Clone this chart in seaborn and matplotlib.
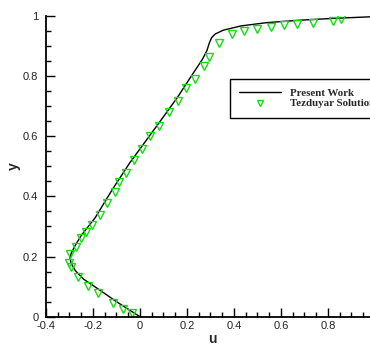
import matplotlib
matplotlib.use("Agg")
import matplotlib.pyplot as plt
import seaborn as sns
import pandas as pd
from matplotlib.ticker import MultipleLocator, FixedLocator, FuncFormatter
from matplotlib.lines import Line2D

# Present Work: u-velocity profile along the vertical centreline
present_u = [0.0, -0.05, -0.10, -0.17, -0.24, -0.275, -0.293, -0.298, -0.292,
             -0.275, -0.25, -0.19, -0.12, -0.045, 0.03, 0.10, 0.16, 0.22,
             0.265, 0.285, 0.295, 0.305, 0.32, 0.355, 0.43, 0.54, 0.68, 0.82, 1.0]
present_y = [0.0, 0.025, 0.05, 0.088, 0.125, 0.153, 0.178, 0.195, 0.212,
             0.238, 0.27, 0.33, 0.42, 0.51, 0.59, 0.665, 0.73, 0.802,
             0.855, 0.885, 0.91, 0.928, 0.94, 0.953, 0.967, 0.978, 0.986, 0.992, 0.998]

# Tezduyar reference solution
tez_u = [-0.035, -0.071, -0.116, -0.180, -0.220, -0.263, -0.294, -0.302, -0.298,
         -0.274, -0.251, -0.230, -0.204, -0.170, -0.139, -0.106, -0.089, -0.060,
         -0.026, 0.010, 0.043, 0.080, 0.123, 0.160, 0.194, 0.235, 0.274, 0.295,
         0.336, 0.390, 0.444, 0.499, 0.556, 0.614, 0.668, 0.735, 0.820, 0.855]
tez_y = [0.011, 0.025, 0.047, 0.078, 0.102, 0.131, 0.164, 0.180, 0.208,
         0.233, 0.261, 0.281, 0.305, 0.338, 0.379, 0.415, 0.448, 0.477,
         0.521, 0.557, 0.601, 0.635, 0.682, 0.717, 0.760, 0.791, 0.834, 0.863,
         0.911, 0.940, 0.951, 0.957, 0.963, 0.969, 0.973, 0.977, 0.983, 0.990]

x_ticks = [-0.4, -0.2, 0, 0.2, 0.4, 0.6, 0.8]
y_ticks = [0, 0.2, 0.4, 0.6, 0.8, 1.0]

sns.set_theme(style="ticks")
plt.rcParams["font.family"] = ["Liberation Sans", "DejaVu Sans"]
plt.rcParams["axes.unicode_minus"] = False

df_present = pd.DataFrame({"u": present_u, "y": present_y})
df_tez = pd.DataFrame({"u": tez_u, "y": tez_y})

fig = plt.figure(figsize=(3.70, 3.45), dpi=100)
ax = fig.add_axes([0.1243, 0.082, 0.889, 0.8716])

green = "#16dc16"
sns.lineplot(data=df_present, x="u", y="y", sort=False, estimator=None,
             color="black", linewidth=1.0, ax=ax)
sns.lineplot(data=df_tez, x="u", y="y", sort=False, estimator=None,
             linestyle="", marker="v", markersize=6, markerfacecolor="none",
             markeredgecolor=green, markeredgewidth=1.0, ax=ax)

ax.set_xlim(-0.4, 1.0)
ax.set_ylim(0, 1.0)
ax.xaxis.set_major_locator(FixedLocator(x_ticks))
ax.yaxis.set_major_locator(FixedLocator(y_ticks))
ax.xaxis.set_minor_locator(MultipleLocator(0.05))
ax.yaxis.set_minor_locator(MultipleLocator(0.05))
fmt = FuncFormatter(lambda v, p: "%g" % round(v, 2))
ax.xaxis.set_major_formatter(fmt)
ax.yaxis.set_major_formatter(fmt)

ax.tick_params(which="major", direction="in", length=6.5, width=1.0,
               labelsize=8, colors="black", labelcolor="#222222")
ax.tick_params(which="minor", direction="in", length=3.5, width=1.0, colors="black")
ax.tick_params(axis="y", which="major", pad=5.5)
ax.tick_params(axis="x", which="major", pad=3)

for side in ("top", "right"):
    ax.spines[side].set_visible(False)
for side in ("left", "bottom"):
    ax.spines[side].set_linewidth(1.3)
    ax.spines[side].set_color("black")

ax.set_xlabel("u", fontsize=10, fontweight="bold")
ax.set_ylabel("y", fontsize=10, fontweight="bold")
ax.xaxis.set_label_coords(0.505, -0.05)
ax.yaxis.set_label_coords(-0.075, 0.5)

handles = [
    Line2D([], [], color="black", linewidth=1.0),
    Line2D([], [], linestyle="", marker="v", markersize=5, markerfacecolor="none",
           markeredgecolor=green, markeredgewidth=1.0),
]
leg = fig.legend(handles, ["Present Work", "Tezduyar Solution"],
                 loc="upper left", bbox_to_anchor=(0.6216, 0.771),
                 borderaxespad=0.0,
                 frameon=True, fancybox=False, framealpha=1, edgecolor="black",
                 borderpad=0.85, handlelength=3.9, handletextpad=0.8, labelspacing=0.1,
                 prop={"family": "Liberation Serif", "weight": "bold", "size": 7.8})
leg.get_frame().set_linewidth(1.0)

fig.savefig("out.png", dpi=100)
